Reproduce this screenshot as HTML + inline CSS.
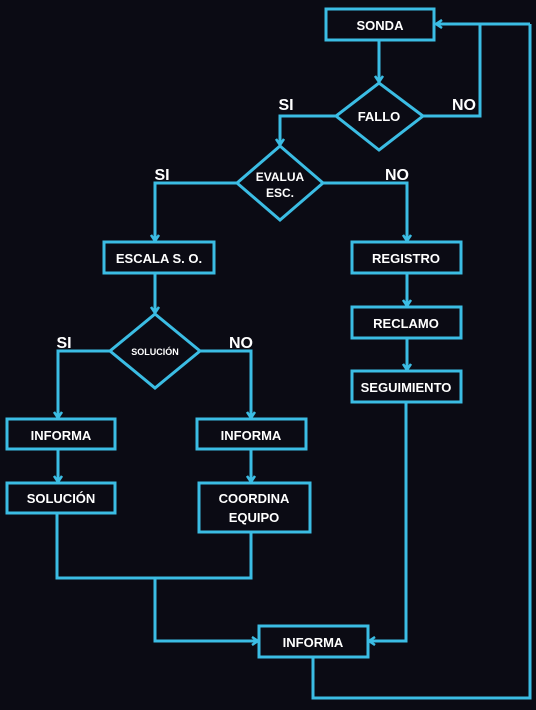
<!DOCTYPE html>
<html><head><meta charset="utf-8"><style>
html,body{margin:0;padding:0;background:#0b0b14;}
svg{display:block}
text{font-family:"Liberation Sans",sans-serif;font-weight:bold;fill:#fff;text-anchor:middle;}
</style></head><body>
<svg width="536" height="710" viewBox="0 0 536 710">
<defs><marker id="a" markerWidth="10" markerHeight="10" refX="7" refY="5" orient="auto" markerUnits="userSpaceOnUse"><path d="M1,1 L7,5 L1,9" fill="none" stroke="#3bbde4" stroke-width="2.5"/></marker></defs>
<g fill="none" stroke="#3bbde4" stroke-width="3">
<rect x="326" y="9" width="108" height="31"/>
<polygon points="379,83 423,116 379,150 336,116"/>
<polygon points="280,146 323,183 280,220 237,183"/>
<rect x="104" y="242" width="110" height="31"/>
<rect x="352" y="242" width="109" height="31"/>
<rect x="352" y="307" width="109" height="31"/>
<rect x="352" y="371" width="109" height="31"/>
<polygon points="155,314 200,351 155,388 110,351"/>
<rect x="7" y="419" width="108" height="30"/>
<rect x="7" y="483" width="108" height="30"/>
<rect x="197" y="419" width="109" height="30"/>
<rect x="199" y="483" width="111" height="49"/>
<rect x="259" y="626" width="109" height="31"/>
<path d="M379,40 V82" marker-end="url(#a)"/>
<path d="M423,116 H480 V24"/>
<path d="M530,24 H436" marker-end="url(#a)"/>
<path d="M530,24 V698 H313 V657"/>
<path d="M336,116 H280 V145" marker-end="url(#a)"/>
<path d="M237,183 H155 V241" marker-end="url(#a)"/>
<path d="M323,183 H407 V241" marker-end="url(#a)"/>
<path d="M155,273 V313" marker-end="url(#a)"/>
<path d="M407,273 V306" marker-end="url(#a)"/>
<path d="M407,338 V370" marker-end="url(#a)"/>
<path d="M110,351 H58 V418" marker-end="url(#a)"/>
<path d="M200,351 H251 V418" marker-end="url(#a)"/>
<path d="M58,449 V482" marker-end="url(#a)"/>
<path d="M251,449 V482" marker-end="url(#a)"/>
<path d="M57,513 V578 H251 V532"/>
<path d="M155,578 V641 H258" marker-end="url(#a)"/>
<path d="M406,402 V641 H369" marker-end="url(#a)"/>
</g>
<g font-size="13">
<text x="380" y="30">SONDA</text>
<text x="379" y="121">FALLO</text>
<text x="280" y="181" font-size="12">EVALUA</text>
<text x="280" y="197" font-size="12">ESC.</text>
<text x="159" y="263">ESCALA S. O.</text>
<text x="406" y="263">REGISTRO</text>
<text x="406" y="328">RECLAMO</text>
<text x="406" y="392">SEGUIMIENTO</text>
<text x="155" y="355" font-size="9">SOLUCIÓN</text>
<text x="61" y="440">INFORMA</text>
<text x="61" y="503">SOLUCIÓN</text>
<text x="251" y="440">INFORMA</text>
<text x="254" y="503">COORDINA</text>
<text x="254" y="522">EQUIPO</text>
<text x="313" y="647">INFORMA</text>
</g>
<g font-size="16">
<text x="286" y="110">SI</text>
<text x="464" y="110">NO</text>
<text x="162" y="180">SI</text>
<text x="397" y="180">NO</text>
<text x="64" y="348">SI</text>
<text x="241" y="348">NO</text>
</g>
</svg>
</body></html>
